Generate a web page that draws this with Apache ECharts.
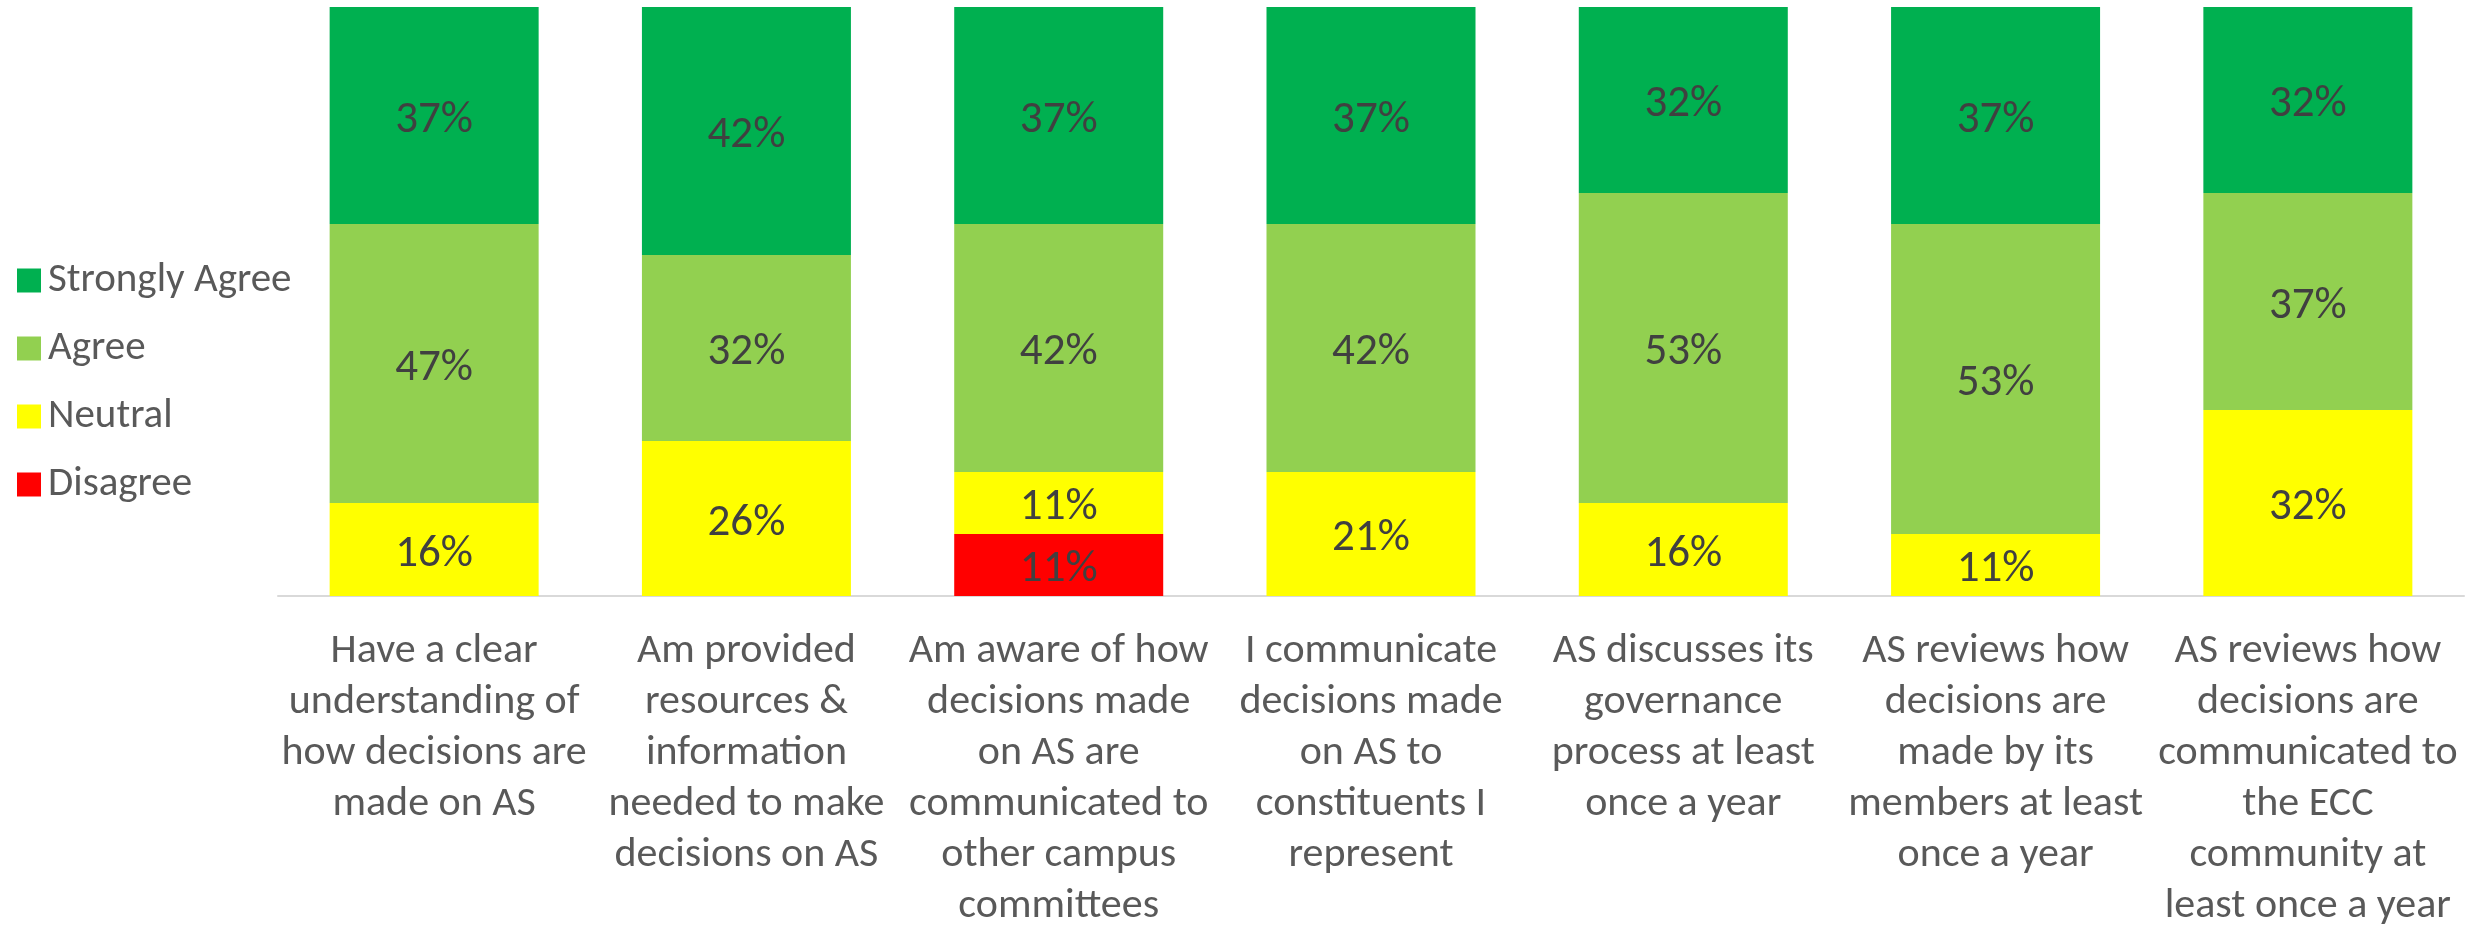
<!DOCTYPE html>
<html>
<head>
<meta charset="utf-8">
<script src="https://cdn.jsdelivr.net/npm/echarts@6/dist/echarts.min.js"></script>
<style>html,body{margin:0;padding:0;background:#fff}#c{width:2483px;height:932px}</style>
</head>
<body>
<div id="c"></div>
<script>
const categories = [
  "Have a clear\nunderstanding of\nhow decisions are\nmade on AS",
  "Am provided\nresources &\ninformation\nneeded to make\ndecisions on AS",
  "Am aware of how\ndecisions made\non AS are\ncommunicated to\nother campus\ncommittees",
  "I communicate\ndecisions made\non AS to\nconstituents I\nrepresent",
  "AS discusses its\ngovernance\nprocess at least\nonce a year",
  "AS reviews how\ndecisions are\nmade by its\nmembers at least\nonce a year",
  "AS reviews how\ndecisions are\ncommunicated to\nthe ECC\ncommunity at\nleast once a year"
];
// percentages (shown rounded on the bars)
const disagree      = [0, 0, 10.53, 0, 0, 0, 0];
const neutral       = [15.79, 26.32, 10.53, 21.05, 15.79, 10.53, 31.58];
const agree         = [47.37, 31.58, 42.11, 42.11, 52.63, 52.63, 36.84];
const stronglyAgree = [36.84, 42.11, 36.84, 36.84, 31.58, 36.84, 31.58];

const FONT = "Carlito, Calibri, Lato, sans-serif";
const chart = echarts.init(document.getElementById('c'), null, {renderer: 'canvas'});

function mk(name, data, color) {
  return {
    name: name, type: 'bar', stack: 'all', data: data, barWidth: 209,
    itemStyle: {color: color},
    label: {
      show: true, position: 'inside', color: '#404040', fontSize: 45, fontFamily: FONT,
      offset: [0, 5],
      formatter: p => p.value > 0 ? Math.round(p.value) + '%' : ''
    },
    emphasis: {disabled: true}
  };
}

chart.setOption({
  animation: false,
  legend: {
    orient: 'vertical', left: 12, top: 255,
    data: ['Strongly Agree', 'Agree', 'Neutral', 'Disagree'],
    icon: 'rect', itemWidth: 24, itemHeight: 24, itemGap: 27,
    textStyle: {fontSize: 41, lineHeight: 36, color: '#595959', fontFamily: FONT, padding: [0,0,0,2]}
  },
  grid: {left: 278, right: 19, top: 7, bottom: 335, containLabel: false},
  xAxis: {
    type: 'category', data: categories,
    axisLine: {show: true, lineStyle: {color: '#d9d9d9', width: 2}},
    axisTick: {show: false},
    axisLabel: {interval: 0, margin: 30, color: '#595959', fontSize: 42, lineHeight: 51, fontFamily: FONT, align: 'center'}
  },
  yAxis: {type: 'value', min: 0, max: 100, show: false, splitLine: {show: false}},
  series: [
    mk('Disagree', disagree, '#FF0000'),
    mk('Neutral', neutral, '#FFFF00'),
    mk('Agree', agree, '#92D050'),
    mk('Strongly Agree', stronglyAgree, '#00B050')
  ]
});
</script>
</body>
</html>
